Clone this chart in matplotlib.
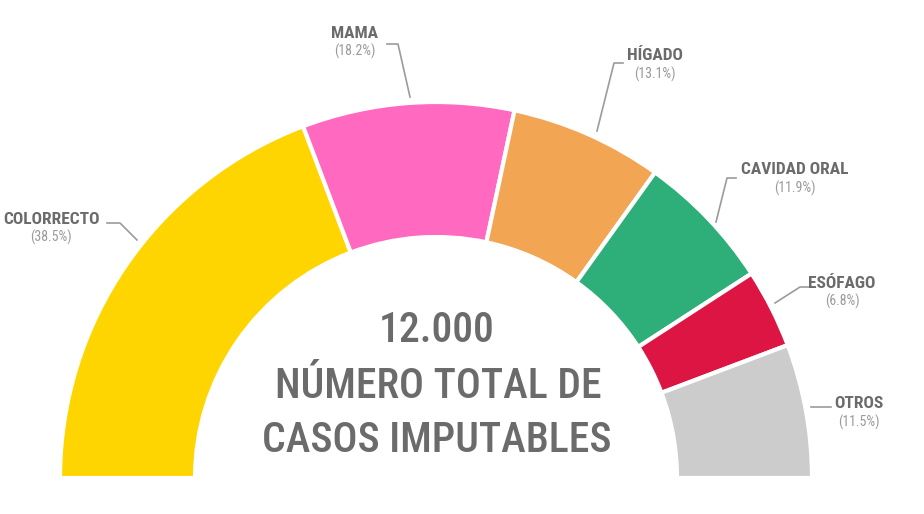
import matplotlib
matplotlib.use('Agg')
import matplotlib.pyplot as plt

# datos
categorias = ['COLORRECTO', 'MAMA', 'HÍGADO', 'CAVIDAD ORAL', 'ESÓFAGO', 'OTROS']
porcentajes = [38.5, 18.2, 13.1, 11.9, 6.8, 11.5]
colores = ['#FFD500', '#FF69C0', '#F2A654', '#2EAE78', '#DC1543', '#CCCCCC']
total_casos = '12.000'

plt.rcParams['font.family'] = ['Roboto Condensed', 'DejaVu Sans']

fig = plt.figure(figsize=(9.24, 5.14), dpi=100)
ax = fig.add_axes([0, 0, 1, 1])

cx, cy = 436, 36
r_ext, r_int = 376, 241

# medio donut: se agrega una porcion invisible igual al total
valores = porcentajes + [sum(porcentajes)]
wedges, _ = ax.pie(valores, colors=colores + ['none'], startangle=180,
                   counterclock=False, radius=r_ext, center=(cx, cy), frame=True,
                   wedgeprops=dict(width=r_ext - r_int, edgecolor='white', linewidth=3))
wedges[-1].set_edgecolor('none')

ax.set_xlim(0, 924)
ax.set_ylim(0, 514)
ax.axis('off')

gris = '#6b6b6b'
gris_claro = '#9a9a9a'
linea = '#9b9b9b'

# posiciones de etiquetas (pixeles, y desde arriba) y lineas guia
etiquetas = [
    (51, 219, [(107, 223), (120, 223), (137, 240)]),
    (355, 33, [(387, 44), (398, 44), (410, 97)]),
    (655, 56, [(623, 63), (614, 63), (597, 131)]),
    (795, 170, [(736, 178), (727, 178), (716, 222)]),
    (842, 283, [(812, 287), (800, 287), (775, 303)]),
    (859, 404, [(811, 407), (831, 407)]),
]

for (x, y, pts), nombre, pct in zip(etiquetas, categorias, porcentajes):
    ax.text(x, 514 - y, nombre, ha='center', va='center', fontsize=12.5, fontweight='bold', color=gris)
    ax.text(x, 514 - y - 18, '(%.1f%%)' % pct, ha='center',
            va='center', fontsize=10, color=gris_claro)
    ax.plot([p[0] for p in pts], [514 - p[1] for p in pts], color=linea, lw=1.2)

ax.text(437, 514 - 331, total_casos, ha='center', va='center', fontsize=30, color=gris, fontweight='medium')
ax.text(438, 514 - 386, 'NÚMERO TOTAL DE', ha='center', va='center', fontsize=30, color=gris, fontweight='medium')
ax.text(437, 514 - 441, 'CASOS IMPUTABLES', ha='center', va='center', fontsize=30, color=gris, fontweight='medium')

fig.savefig('out.png', dpi=100)
